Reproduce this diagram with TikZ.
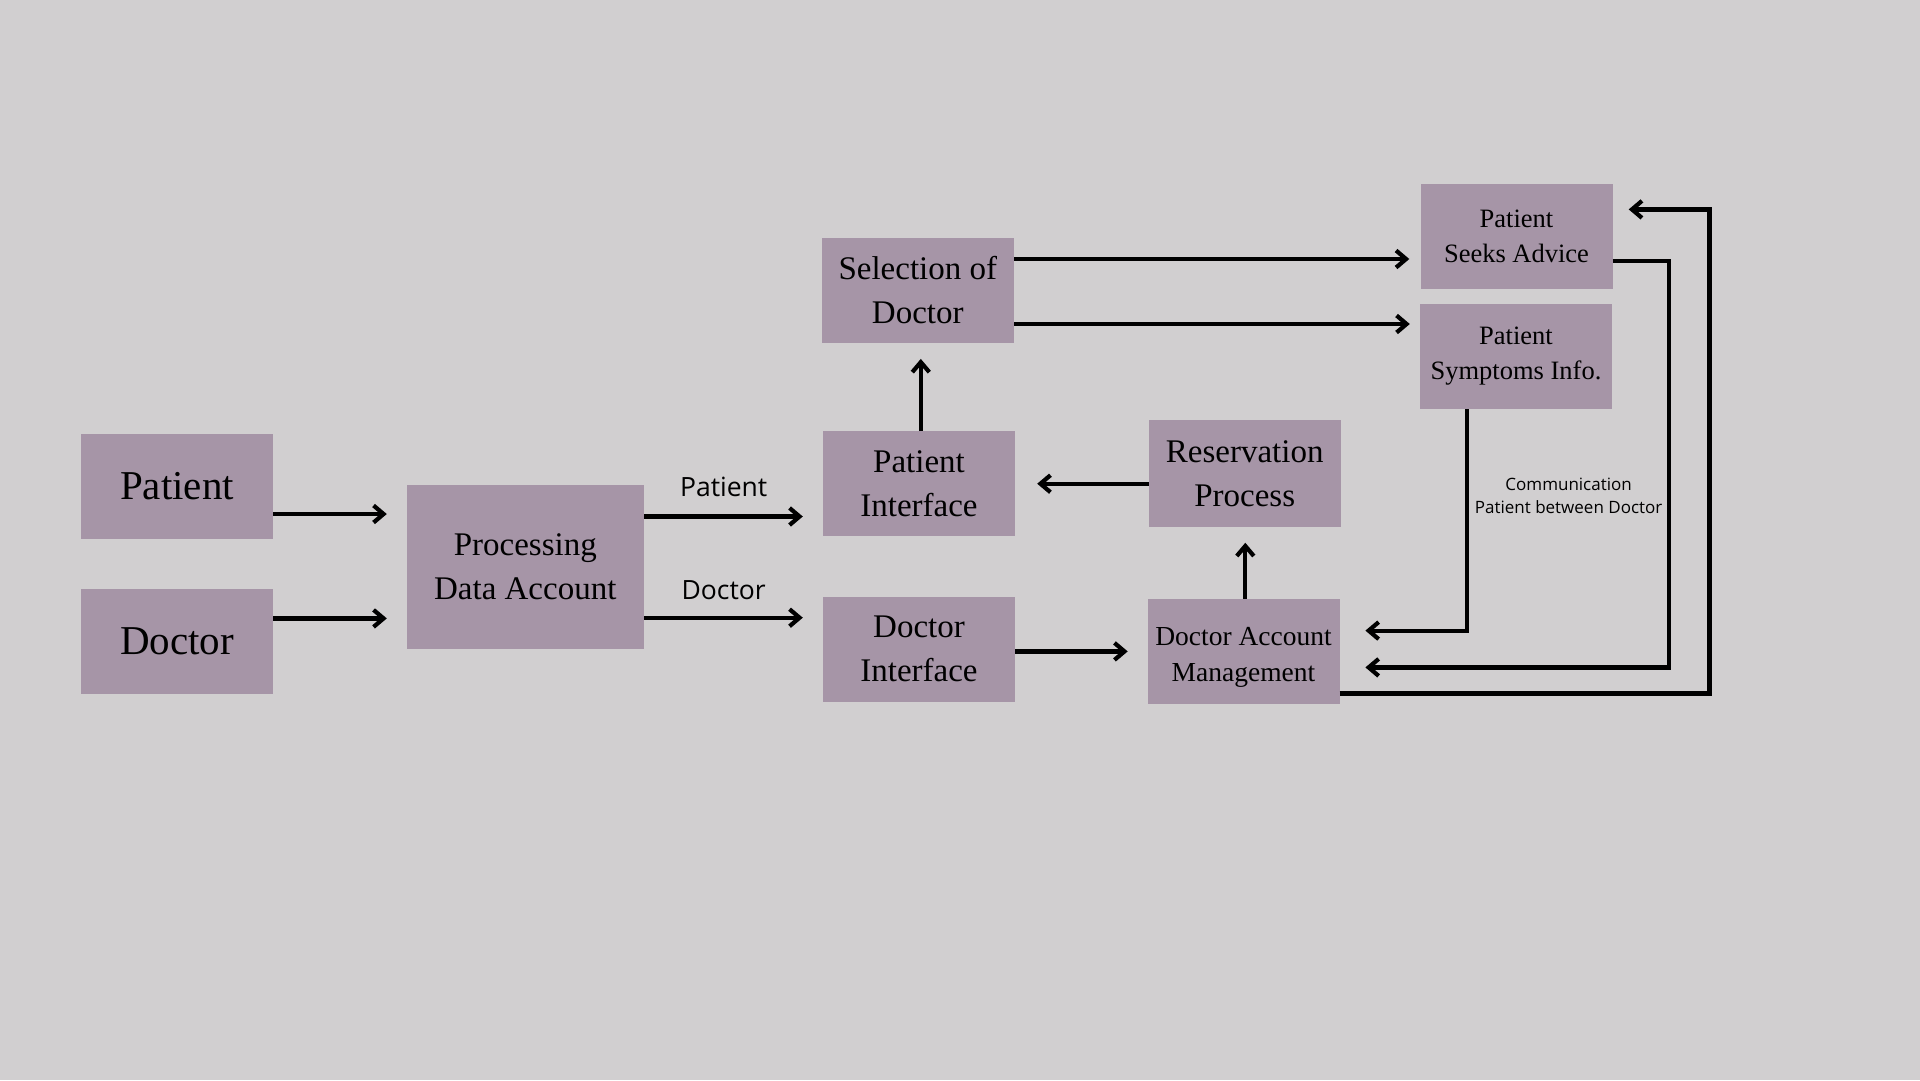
\documentclass[tikz,border=0pt]{standalone}
\usepackage{fontspec}
\setmainfont{Liberation Serif}
\newfontfamily\labelfont{Open Sans}
\usetikzlibrary{arrows.meta}
\definecolor{bgc}{HTML}{D1CFD0}
\definecolor{boxc}{HTML}{A695A7}
\begin{document}
\begin{tikzpicture}[x=1pt,y=-1pt,
  box/.style={fill=boxc, inner sep=0pt, align=center, minimum width=192pt, minimum height=105pt},
  big/.style={font=\fontsize{41}{48}\selectfont},
  mid/.style={font=\fontsize{33}{44}\selectfont},
  small/.style={font=\fontsize{27.5}{36.5}\selectfont},
  smaller/.style={font=\fontsize{26.5}{35.5}\selectfont},
  arr/.style={line width=4.2pt, -{Straight Barb[length=10pt,width=17pt]}},
  lbl/.style={font=\labelfont\fontsize{26.5}{30}\selectfont, inner sep=0pt},
  note/.style={font=\labelfont\fontsize{17}{23}\selectfont, align=center, inner sep=0pt}]
\useasboundingbox (0,0) rectangle (1920,1080);
\fill[bgc] (0,0) rectangle (1920,1080);

% boxes
\node[box,big] (pat) at (177,486) {Patient};
\node[box,big] (doc) at (177,641.6) {Doctor};
\node[box,mid,minimum width=237.6pt,minimum height=164pt] (proc) at (525.3,567) {Processing\\Data Account};
\node[box,mid] (sel) at (917.8,290.2) {Selection of\\Doctor};
\node[box,mid] (pint) at (919,483.7) {Patient\\Interface};
\node[box,mid] (dint) at (919,649) {Doctor\\Interface};
\node[box,mid,minimum height=106.5pt] (res) at (1244.7,473.3) {Reservation\\Process};
\node[box,minimum height=105pt] (dam) at (1243.5,651.5) {};
\node[small,align=center,inner sep=0pt] (damt) at ([yshift=-6pt]dam.center) {Doctor Account\\Management};
\node[box,smaller] (seek) at (1516.5,236.3) {Patient\\Seeks Advice};
\node[box,smaller] (symp) at (1516,356.3) {Patient\\Symptoms Info.};

% helper coordinates
\coordinate (y1) at (0,514);
\coordinate (y2) at (0,618.4);
\coordinate (y3) at (0,516.5);
\coordinate (y4) at (0,617.7);
\coordinate (x5) at (920.8,0);
\coordinate (y6) at (0,259);
\coordinate (y7) at (0,324);
\coordinate (y8) at (0,483.7);
\coordinate (x9) at (1245.3,0);
\coordinate (y10) at (0,651.4);
\coordinate (x11) at (1467,0);
\coordinate (y11) at (0,630.6);
\coordinate (y12a) at (0,260.8);
\coordinate (x12) at (1669,0);
\coordinate (y12b) at (0,667.4);
\coordinate (y13) at (0,693.5);
\coordinate (x13) at (1709.4,0);
\coordinate (y13b) at (0,209.4);

% connectors
\draw[arr,shorten >=19.5pt] (pat.east |- y1) -- (proc.west |- y1);
\draw[arr,shorten >=19.5pt] (doc.east |- y2) -- (proc.west |- y2);
\draw[arr,shorten >=20pt] (proc.east |- y3) -- (pint.west |- y3);
\draw[arr,shorten >=20pt] (proc.east |- y4) -- (dint.west |- y4);
\draw[arr,shorten >=16pt] (x5 |- pint.north) -- (x5 |- sel.south);
\draw[arr,shorten >=11pt] (sel.east |- y6) -- (seek.west |- y6);
\draw[arr,shorten >=10pt] (sel.east |- y7) -- (symp.west |- y7);
\draw[arr,shorten >=22pt] (res.west |- y8) -- (pint.east |- y8);
\draw[arr,shorten >=16pt] (x9 |- dam.north) -- (x9 |- res.south);
\draw[arr,shorten >=19.6pt] (dint.east |- y10) -- (dam.west |- y10);
\draw[arr,shorten >=25.7pt] (x11 |- symp.south) |- (dam.east |- y11);
\draw[arr,shorten >=25.7pt] (seek.east |- y12a) -| (x12 |- y12b) -- (dam.east |- y12b);
\draw[arr,shorten >=16pt] (dam.east |- y13) -| (x13 |- y13b) -- (seek.east |- y13b);

% labels
\node[lbl] (lp) at (723.7,487.3) {Patient};
\node[lbl] (ld) at (723.7,590) {Doctor};
\node[note] (comm) at (1568.6,496) {Communication\\Patient between Doctor};
\end{tikzpicture}
\end{document}
